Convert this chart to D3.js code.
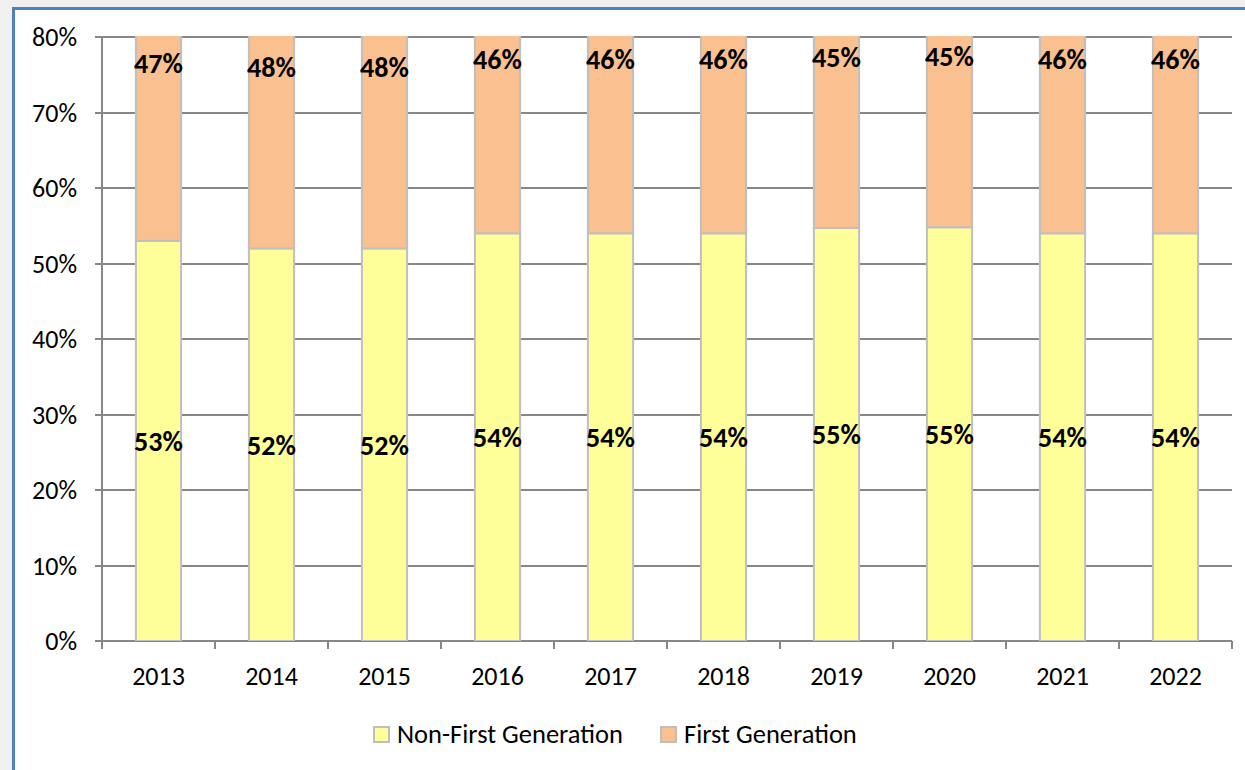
<!DOCTYPE html>
<meta charset="utf-8">
<html>
<style>
	body { margin: 0; background: #f0f0f0; }
	text { font-family: Carlito, Lato, "Liberation Sans", sans-serif; fill: #000; }
	.grid line { stroke: #878787; stroke-width: 2px; }
	.bar { stroke: #bfbfbf; stroke-width: 2px; }
	.lbl { font-weight: bold; font-size: 28px; }
</style>
<body>
	<script src="https://d3js.org/d3.v7.min.js"></script>
	<script type="text/javascript">
		// data
		var years = ["2013", "2014", "2015", "2016", "2017", "2018", "2019", "2020", "2021", "2022"];
		var nonFirst = [53, 52, 52, 54, 54, 54, 54.7, 54.8, 54, 54];
		var firstGen = [47, 48, 48, 46, 46, 46, 45.3, 45.2, 46, 46];
		var yTicks = [0, 10, 20, 30, 40, 50, 60, 70, 80];
		var seriesNames = ["Non-First Generation", "First Generation"];
		var colors = ["#ffff99", "#fac090"];

		var width = 1245, height = 770;
		var plotL = 102, plotR = 1232, plotT = 37, plotB = 641;

		var svg = d3.select("body").append("svg")
			.attr("width", width)
			.attr("height", height)
			.style("display", "block");

		// panel with blue frame
		svg.append("rect")
			.attr("x", 13.5).attr("y", 8.5)
			.attr("width", width).attr("height", height)
			.attr("fill", "#fff")
			.attr("stroke", "#4f81bd")
			.attr("stroke-width", 3);

		var x = d3.scaleBand().domain(years).range([plotL, plotR]);
		var y = d3.scaleLinear().domain([0, 80]).range([plotB, plotT]);
		var barW = x.bandwidth() / 2.5;

		// gridlines
		var grid = svg.append("g").attr("class", "grid");
		grid.selectAll("line.h")
			.data(yTicks)
			.enter().append("line")
			.attr("x1", plotL - 7).attr("x2", plotR)
			.attr("y1", function (d) { return Math.round(y(d)); })
			.attr("y2", function (d) { return Math.round(y(d)); });
		grid.append("line")
			.attr("x1", plotL).attr("x2", plotL)
			.attr("y1", plotT).attr("y2", plotB);
		// x ticks at band edges
		grid.selectAll("line.xt")
			.data(years.concat(["end"]))
			.enter().append("line")
			.attr("x1", function (d, i) { return plotL + i * x.step(); })
			.attr("x2", function (d, i) { return plotL + i * x.step(); })
			.attr("y1", plotB).attr("y2", plotB + 8);

		svg.append("clipPath").attr("id", "plotClip")
			.append("rect")
			.attr("x", plotL).attr("y", plotT - 1)
			.attr("width", plotR - plotL).attr("height", plotB - plotT + 1);

		var bars = svg.append("g").attr("clip-path", "url(#plotClip)");

		// non-first generation
		bars.selectAll("rect.nf")
			.data(years)
			.enter().append("rect")
			.attr("class", "bar")
			.attr("x", function (d) { return x(d) + (x.bandwidth() - barW) / 2; })
			.attr("width", barW)
			.attr("y", function (d, i) { return y(nonFirst[i]); })
			.attr("height", function (d, i) { return y(0) - y(nonFirst[i]); })
			.attr("fill", colors[0]);

		// first generation (stacked on top, clipped at 80%)
		bars.selectAll("rect.fg")
			.data(years)
			.enter().append("rect")
			.attr("class", "bar")
			.attr("x", function (d) { return x(d) + (x.bandwidth() - barW) / 2; })
			.attr("width", barW)
			.attr("y", function (d, i) { return y(nonFirst[i] + firstGen[i]); })
			.attr("height", function (d, i) { return y(nonFirst[i]) - y(nonFirst[i] + firstGen[i]); })
			.attr("fill", colors[1]);

		// data labels
		svg.selectAll("text.nfl")
			.data(years)
			.enter().append("text")
			.attr("class", "lbl")
			.attr("text-anchor", "middle")
			.attr("dy", "0.35em")
			.attr("x", function (d) { return x(d) + x.bandwidth() / 2; })
			.attr("y", function (d, i) { return y(nonFirst[i] / 2); })
			.text(function (d, i) { return Math.round(nonFirst[i]) + "%"; });

		svg.selectAll("text.fgl")
			.data(years)
			.enter().append("text")
			.attr("class", "lbl")
			.attr("text-anchor", "middle")
			.attr("dy", "0.35em")
			.attr("x", function (d) { return x(d) + x.bandwidth() / 2; })
			.attr("y", function (d, i) { return y(nonFirst[i] + firstGen[i] / 2); })
			.text(function (d, i) { return Math.round(firstGen[i]) + "%"; });

		// y tick labels
		svg.selectAll("text.yt")
			.data(yTicks)
			.enter().append("text")
			.attr("text-anchor", "end")
			.attr("dy", "0.35em")
			.style("font-size", "26px")
			.attr("x", 77)
			.attr("y", function (d) { return y(d); })
			.text(function (d) { return d + "%"; });

		// x tick labels
		svg.selectAll("text.xl")
			.data(years)
			.enter().append("text")
			.attr("text-anchor", "middle")
			.style("font-size", "26px")
			.attr("x", function (d) { return x(d) + x.bandwidth() / 2; })
			.attr("y", 685)
			.text(function (d) { return d; });

		// legend
		var legendX = [374, 661];
		var legend = svg.selectAll("g.legend")
			.data(seriesNames)
			.enter().append("g")
			.attr("transform", function (d, i) { return "translate(" + legendX[i] + ",727)"; });
		legend.append("rect")
			.attr("width", 15).attr("height", 15)
			.attr("fill", function (d, i) { return colors[i]; })
			.attr("stroke", "#bfbfbf")
			.attr("stroke-width", 2);
		legend.append("text")
			.attr("x", 23)
			.attr("y", 16)
			.style("font-size", "26.5px")
			.text(function (d) { return d; });
	</script>
</body>
</html>
